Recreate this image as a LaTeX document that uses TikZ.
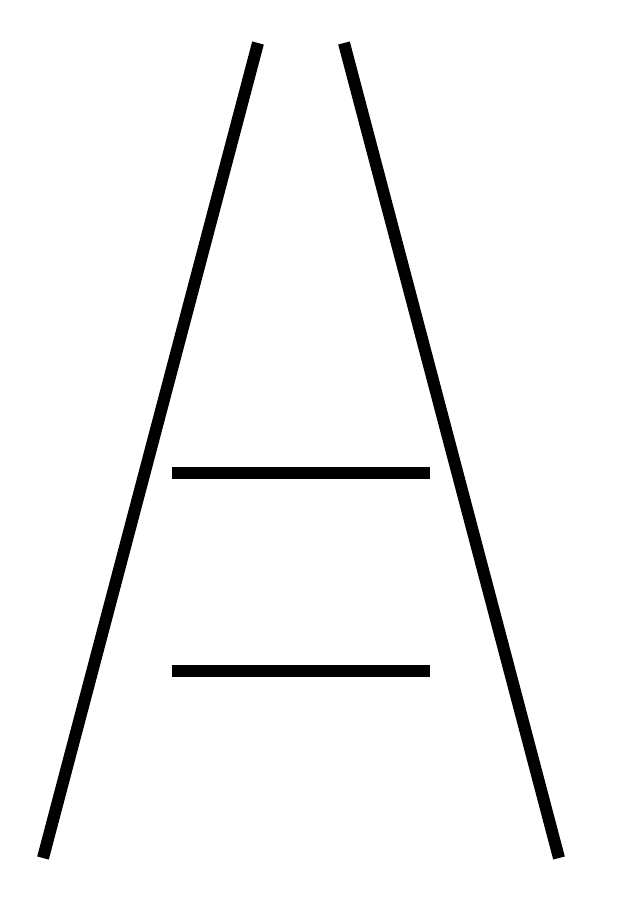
\documentclass[tikz,border=0pt]{standalone}
\begin{document}
\begin{tikzpicture}[x=1pt,y=-1pt,line width=12pt,
  railline/.style={draw=black},
  barline/.style={draw=black}]
\useasboundingbox (0,0) rectangle (640,905);
\coordinate (lt) at (258,43);
\coordinate (lb) at (43,858);
\coordinate (rt) at (344,43);
\coordinate (rb) at (559,858);
\coordinate (a1) at (172,472.5);
\coordinate (a2) at (430,472.5);
\coordinate (b1) at (172,670.5);
\coordinate (b2) at (430,670.5);
\draw[railline] (lt) -- (lb);
\draw[railline] (rt) -- (rb);
\draw[barline] (a1) -- (a2);
\draw[barline] (b1) -- (b2);
\end{tikzpicture}
\end{document}
